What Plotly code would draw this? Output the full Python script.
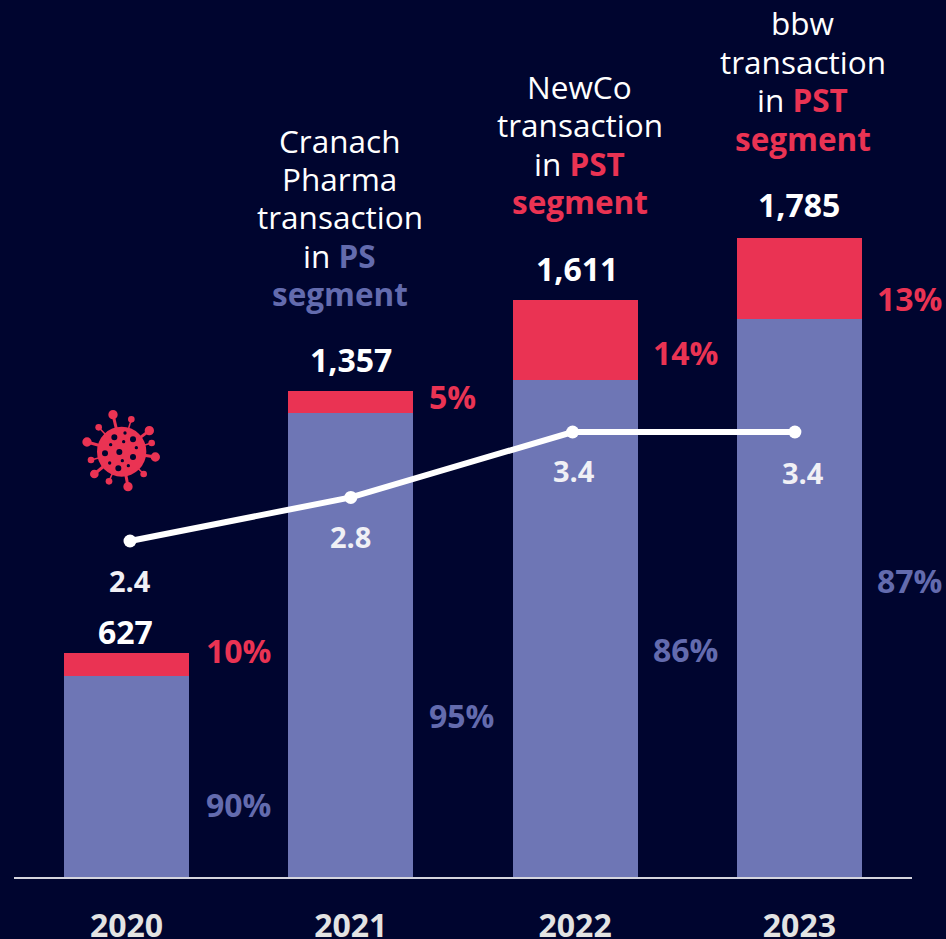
import plotly.graph_objects as go

# ---------- data ----------
years = [2020, 2021, 2022, 2023]
year_labels = ["2020", "2021", "2022", "2023"]
totals = [627, 1357, 1611, 1785]
ps_values = [562, 1295, 1388, 1559]
pst_values = [65, 62, 223, 226]
ps_share = ["90%", "95%", "86%", "87%"]
pst_share = ["10%", "5%", "14%", "13%"]
line_values = [2.4, 2.8, 3.4, 3.4]
line_labels = ["2.4", "2.8", "3.4", "3.4"]

# ---------- style ----------
BG = "#00052F"
PURPLE = "#6E76B5"
PURPLE_TEXT = "#636BAE"
RED = "#EA3353"
WHITE = "#FFFFFF"
YEAR_GREY = "#E3E3E3"
FONT = "Open Sans"
FS_BOLD = 32
FS_TEXT = 31.5
FS_LINE = 29
LINE_STEP = 38.4

W, H = 946, 939
ML, MR, MB = 14, 34, 62
PLOT_W, PLOT_H = W - ML - MR, H - MB
X_UNIT = 224.3
Y_UNIT = 0.358
Y2_UNIT = 109.0
x0 = 2020 - (126.5 - ML) / X_UNIT
x1 = x0 + PLOT_W / X_UNIT
y_top = PLOT_H / Y_UNIT
y2_low = 2.4 - 336 / Y2_UNIT
y2_top = y2_low + PLOT_H / Y2_UNIT
line_nudge = [3.5, 0, -2.5, -4.5]
line_x = [y + n / X_UNIT for y, n in zip(years, line_nudge)]

fig = go.Figure()
fig.add_bar(x=years, y=ps_values, marker=dict(color=PURPLE, line_width=0), width=125 / X_UNIT)
fig.add_bar(x=years, y=pst_values, marker=dict(color=RED, line_width=0), width=125 / X_UNIT)
fig.add_scatter(x=line_x, y=line_values, yaxis="y2", mode="lines+markers",
                line=dict(color=WHITE, width=6), marker=dict(color=WHITE, size=13))

ann = []


def note(x, y, text, color, dx=0, dy=0, yref="y", bold=True, size=None):
    t = f"<b>{text}</b>" if bold else text
    ann.append(dict(x=x, y=y, xref="x", yref=yref, text=t, showarrow=False, xanchor="center",
                    yanchor="middle", align="center", xshift=dx, yshift=dy,
                    font=dict(family=FONT, size=size or (FS_BOLD if bold else FS_TEXT), color=color)))


total_dx = [-1.5, 0, 1.5, 0]
total_dy = [21, 32, 32, 33]
pst_dx = [111.5, 102, 110.5, 110.5]
pst_dy = [13.5, 6, -12, -20.5]
ps_dx = [111.5, 111, 110.5, 110.5]
ps_dy = [-28.5, -70, -20.5, 17]
line_dx = [0, 0, 1, 8]
line_dy = [-39, -39, -38, -40]

for i, yr in enumerate(years):
    note(yr, totals[i], f"{totals[i]:,}", WHITE, total_dx[i], total_dy[i])
    note(yr, ps_values[i] + pst_values[i] / 2, pst_share[i], RED, pst_dx[i], pst_dy[i])
    note(yr, ps_values[i] / 2, ps_share[i], PURPLE_TEXT, ps_dx[i], ps_dy[i])
    note(line_x[i], line_values[i], line_labels[i], "#F0F0F5", line_dx[i], line_dy[i], yref="y2", size=FS_LINE)


def colored(s, c):
    return f"<b><span style='color:{c}'>{s}</span></b>"


callouts = [
    (2021, totals[1], -11, 251, ["Cranach", "Pharma", "transaction", f"in {colored('PS', PURPLE_TEXT)}",
                                 colored("segment", PURPLE_TEXT)]),
    (2022, totals[2], 4.5, 214, ["NewCo", "transaction", f"in {colored('PST', RED)}", colored("segment", RED)]),
    (2023, totals[3], 3.5, 215, ["bbw", "transaction", f"in {colored('PST', RED)}", colored("segment", RED)]),
]
for yr, tot, dx, first_dy, lines in callouts:
    for k, s in enumerate(lines):
        note(yr, tot, s, WHITE, dx, first_dy - k * LINE_STEP, bold=False)


# ---------- virus icon (decoration, drawn in pixel-derived paper coordinates) ----------
def px(v):
    return (60 + v / 3 - ML) / PLOT_W


def py(v):
    return 1 - (390 + v / 3) / PLOT_H


def circle(cx, cy, rx, ry, color):
    return dict(type="circle", xref="paper", yref="paper", x0=px(cx - rx), x1=px(cx + rx),
                y0=py(cy + ry), y1=py(cy - ry), fillcolor=color, line_width=0, layer="above")


BODY = (185, 185)
knobs = [(159, 74, 14), (214, 88, 10), (268, 122, 14), (275, 159, 10), (286, 201, 14), (251, 252, 10),
         (204, 290, 14), (147, 274, 10), (103, 252, 13), (93, 210, 10), (81, 156, 14), (116, 112, 10)]
holes = [(163, 142, 9), (195, 129, 5), (219, 148, 9), (152, 164, 5), (191, 155, 5), (229, 173, 5),
         (135, 190, 9), (178, 186, 9), (219, 201, 9), (149, 219, 5), (187, 212, 5), (205, 227, 5),
         (175, 235, 9)]
shapes = []
for cx, cy, r in knobs:
    shapes.append(dict(type="line", xref="paper", yref="paper", x0=px(BODY[0]), y0=py(BODY[1]),
                       x1=px(cx), y1=py(cy), line=dict(color=RED, width=3 if r > 11 else 1.5),
                       layer="above"))
    shapes.append(circle(cx, cy, r, r, RED))
shapes.append(circle(BODY[0], BODY[1], 74, 75, RED))
for cx, cy, r in holes:
    shapes.append(circle(cx, cy, r, r, BG))

fig.update_layout(
    width=W, height=H, autosize=False, barmode="stack", showlegend=False,
    paper_bgcolor=BG, plot_bgcolor=BG,
    margin=dict(l=ML, r=MR, t=0, b=MB, pad=0, autoexpand=False),
    xaxis=dict(range=[x0, x1], tickmode="array", tickvals=years, ticktext=[f"<b>{s}</b>" for s in year_labels],
               showgrid=False, zeroline=False, showline=True, linecolor="#D5D5DE", linewidth=2,
               ticks="outside", ticklen=20, tickcolor="rgba(0,0,0,0)", automargin=False,
               tickfont=dict(family=FONT, size=FS_BOLD, color=YEAR_GREY)),
    yaxis=dict(range=[0, y_top], visible=False, showgrid=False, zeroline=False, automargin=False),
    yaxis2=dict(range=[y2_low, y2_top], overlaying="y", visible=False, showgrid=False, zeroline=False),
    annotations=ann, shapes=shapes,
)
fig.write_html("out.html", config={"displayModeBar": False},
               post_script="document.body.style.margin='0';document.body.style.overflow='hidden';"
                           f"document.body.style.background='{BG}';")
